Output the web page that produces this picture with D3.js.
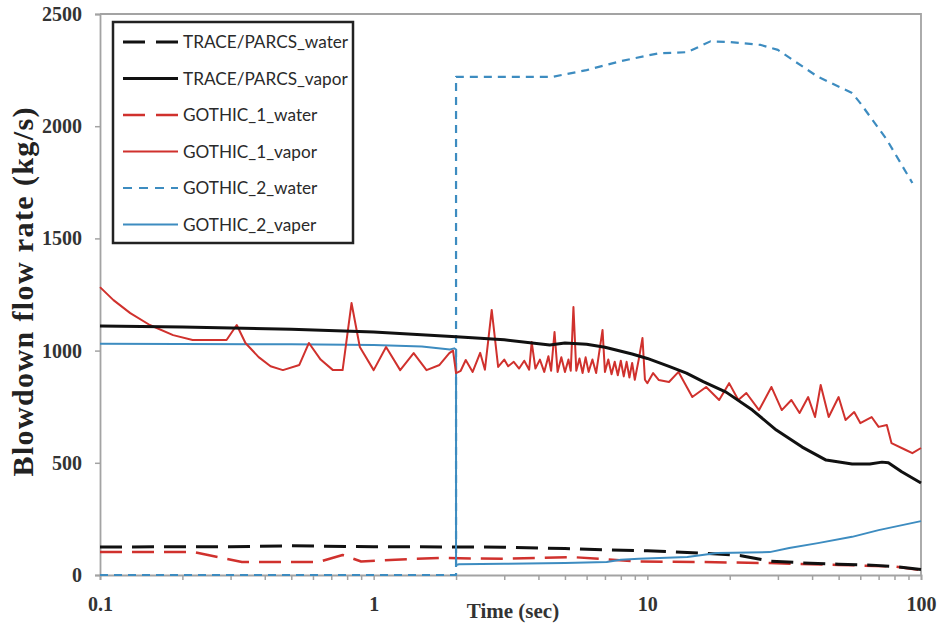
<!DOCTYPE html>
<html>
<head>
<meta charset="utf-8">
<script src="https://cdn.jsdelivr.net/npm/d3@7"></script>
<style>
  html, body { margin: 0; padding: 0; background: #fff; }
  svg { display: block; }
</style>
</head>
<body>
<svg id="chart" width="941" height="628"></svg>
<script>
// ---------- DATA ----------
const seriesNames = ["TRACE/PARCS_water", "TRACE/PARCS_vapor", "GOTHIC_1_water", "GOTHIC_1_vapor", "GOTHIC_2_water", "GOTHIC_2_vaper"];

const traceWaterT = [0.1, 0.3, 0.5, 0.8, 1, 2, 3, 5, 7, 10, 14, 18, 22, 28, 37, 50, 66, 80, 100];
const traceWaterV = [125, 126, 130, 127, 126, 125, 124, 118, 112, 108, 100, 94, 86, 62, 54, 48, 44, 38, 25];

const traceVaporT = [0.1, 0.2, 0.5, 1, 2, 3, 4.4, 5, 6, 7, 8.8, 10, 12, 13.9, 16, 19.4, 24.2, 29.6, 36.8, 45, 56, 65, 72, 76, 85, 100];
const traceVaporV = [1110, 1105, 1095, 1083, 1062, 1048, 1025, 1034, 1028, 1015, 985, 965, 930, 900, 862, 815, 735, 646, 570, 512, 495, 495, 503, 500, 460, 410];

const gothic1WaterT = [0.1, 0.22, 0.33, 0.63, 0.77, 0.9, 1.2, 1.74, 3, 5.3, 9.3, 16, 28, 50, 80, 100];
const gothic1WaterV = [102, 102, 58, 58, 89, 60, 68, 76, 72, 80, 60, 58, 53, 45, 38, 22];

const gothic1VaporT = [0.1, 0.112, 0.129, 0.152, 0.185, 0.218, 0.29, 0.316, 0.34, 0.38, 0.42, 0.466, 0.535, 0.58, 0.64, 0.71, 0.77, 0.83, 0.89, 1.0,
  1.11, 1.25, 1.4, 1.56, 1.74, 1.89, 1.95, 2.0, 2.08, 2.17, 2.3, 2.45, 2.55, 2.7, 2.85, 3.0, 3.1, 3.25, 3.4, 3.55,
  3.7, 3.78, 3.9, 4.05, 4.2, 4.35, 4.45, 4.58, 4.7, 4.85, 5.0, 5.15, 5.25, 5.37, 5.5, 5.65, 5.8, 5.95, 6.1, 6.3,
  6.5, 6.86, 7.0, 7.2, 7.4, 7.6, 7.8, 8.0, 8.2, 8.4, 8.6, 8.8, 9.0, 9.3, 9.6, 9.8, 10.0, 10.5, 11.0, 12.0,
  13.0, 14.6, 16.4, 18.3, 19.9, 21.5, 23, 25.6, 28.4, 31, 33.6, 36, 38.7, 41, 43, 46, 50, 53, 57, 60,
  66, 70, 75, 78, 88, 93, 100];
const gothic1VaporV = [1283, 1225, 1167, 1114, 1069, 1047, 1047, 1114, 1034, 971, 930, 913, 936, 1034, 960, 913, 913, 1212, 1016, 913,
  1016, 913, 989, 913, 936, 989, 1000, 900, 910, 958, 905, 990, 915, 1181, 927, 960, 930, 950, 920, 955,
  915, 1038, 920, 960, 905, 975, 910, 1083, 905, 970, 905, 960, 910, 1194, 910, 965, 900, 970, 905, 960,
  900, 1092, 905, 960, 895, 950, 890, 955, 885, 950, 880, 945, 870, 960, 1056, 870, 855, 900, 869, 860,
  905, 793, 838, 780, 855, 780, 811, 735, 838, 735, 780, 722, 793, 704, 847, 704, 793, 691, 726, 677,
  704, 660, 668, 588, 557, 543, 566];

const gothic2WaterT = [0.1, 2, 2, 4.5, 6, 8, 11, 14, 17, 20, 26, 30, 42, 56, 60, 75, 93];
const gothic2WaterV = [0, 0, 2220, 2220, 2250, 2290, 2325, 2330, 2378, 2375, 2362, 2340, 2220, 2148, 2103, 1940, 1747];

const gothic2VaperT = [0.1, 0.5, 1, 1.5, 1.9, 1.97, 2, 2, 2.05, 3, 5, 7.1, 8, 9.3, 14, 18, 28, 33, 42, 56, 70, 100];
const gothic2VaperV = [1030, 1028, 1025, 1018, 1005, 1010, 1005, 45, 48, 50, 53, 58, 68, 72, 80, 98, 102, 120, 142, 170, 200, 240];

const yTicks = [0, 500, 1000, 1500, 2000, 2500];
const xTickLabels = [0.1, 1, 10, 100];

// ---------- CHART ----------
const svg = d3.select("#chart");
const plotLeft = 100, plotRight = 921, plotTop = 14, plotBottom = 575;

const x = d3.scaleLog().domain([0.1, 100]).range([plotLeft, plotRight]);
const y = d3.scaleLinear().domain([0, 2500]).range([plotBottom, plotTop]);

const axisColor = "#a3a3a3";
const labelColor = "#333";

// plot frame (top and right)
svg.append("path")
  .attr("d", `M${plotLeft},${plotTop}H${plotRight}V${plotBottom}`)
  .attr("fill", "none").attr("stroke", axisColor).attr("stroke-width", 1.8);

// y axis
const yAxis = svg.append("g").attr("transform", `translate(${plotLeft},0)`)
  .call(d3.axisLeft(y).tickValues(yTicks).tickSize(5).tickPadding(13).tickFormat(d3.format("d")));
yAxis.select(".domain").attr("stroke", axisColor).attr("stroke-width", 1.8);
yAxis.selectAll(".tick line").attr("stroke", axisColor).attr("stroke-width", 1.5);
yAxis.selectAll("text").attr("font-family", "'Liberation Serif', 'Times New Roman', serif")
  .attr("font-weight", "bold").attr("font-size", 20).attr("fill", labelColor);

// x axis: all log ticks, labels only at decades
const allXTicks = [];
[0.1, 1, 10].forEach(d => { for (let k = 1; k <= 9; k++) allXTicks.push(+(d * k).toPrecision(3)); });
allXTicks.push(100);
const xAxis = svg.append("g").attr("transform", `translate(0,${plotBottom})`)
  .call(d3.axisBottom(x).tickValues(allXTicks).tickSize(5).tickPadding(17)
    .tickFormat(d => xTickLabels.includes(d) ? String(d) : ""));
xAxis.select(".domain").attr("stroke", axisColor).attr("stroke-width", 1.8);
xAxis.selectAll(".tick line").attr("stroke", axisColor).attr("stroke-width", 1.5);
xAxis.selectAll("text").attr("font-family", "'Liberation Serif', 'Times New Roman', serif")
  .attr("font-weight", "bold").attr("font-size", 20).attr("fill", labelColor);

// axis titles
svg.append("text")
  .attr("x", 513).attr("y", 618)
  .attr("text-anchor", "middle")
  .attr("font-family", "'Liberation Serif', 'Times New Roman', serif")
  .attr("font-weight", "bold").attr("font-size", 21).attr("fill", labelColor)
  .text("Time (sec)");

svg.append("text")
  .attr("transform", "translate(33,292) rotate(-90)")
  .attr("text-anchor", "middle")
  .attr("font-family", "'Liberation Serif', 'Times New Roman', serif")
  .attr("font-weight", "bold").attr("font-size", 30).attr("fill", "#222")
  .attr("textLength", 369).attr("lengthAdjust", "spacing")
  .text("Blowdown flow rate (kg/s)");

// series
const red = "#d0312d", blue = "#3d8cc0";
const series = [
  { name: seriesNames[0], t: traceWaterT, v: traceWaterV, color: "#111", width: 3, dash: "22,10" },
  { name: seriesNames[1], t: traceVaporT, v: traceVaporV, color: "#111", width: 3, dash: null },
  { name: seriesNames[2], t: gothic1WaterT, v: gothic1WaterV, color: red, width: 2.5, dash: "22,10" },
  { name: seriesNames[3], t: gothic1VaporT, v: gothic1VaporV, color: red, width: 2, dash: null },
  { name: seriesNames[4], t: gothic2WaterT, v: gothic2WaterV, color: blue, width: 2.2, dash: "8,6" },
  { name: seriesNames[5], t: gothic2VaperT, v: gothic2VaperV, color: blue, width: 2, dash: null }
];

const line = d3.line().x(d => x(d[0])).y(d => y(d[1]));
const drawOrder = [4, 2, 0, 5, 3, 1];
drawOrder.forEach(i => {
  const s = series[i];
  svg.append("path")
    .datum(s.t.map((t, j) => [t, s.v[j]]))
    .attr("d", line)
    .attr("fill", "none")
    .attr("stroke", s.color)
    .attr("stroke-width", s.width)
    .attr("stroke-linejoin", "round")
    .attr("stroke-dasharray", s.dash);
});

// legend
const lg = svg.append("g");
lg.append("rect").attr("x", 113).attr("y", 22).attr("width", 240).attr("height", 221)
  .attr("fill", "#fff").attr("stroke", "#222").attr("stroke-width", 2.5);
series.forEach((s, i) => {
  const ry = 42 + i * 36.5;
  lg.append("line").attr("x1", 123).attr("x2", 178).attr("y1", ry).attr("y2", ry)
    .attr("stroke", s.color).attr("stroke-width", s.width)
    .attr("stroke-dasharray", s.dash ? (s.dash === "8,6" ? "9,7" : "22,11") : null);
  lg.append("text").attr("x", 183).attr("y", ry + 6)
    .attr("font-family", "Lato, 'Open Sans', sans-serif")
    .attr("font-size", 17.2).attr("fill", "#2a2a2a")
    .text(s.name);
});
</script>
</body>
</html>
